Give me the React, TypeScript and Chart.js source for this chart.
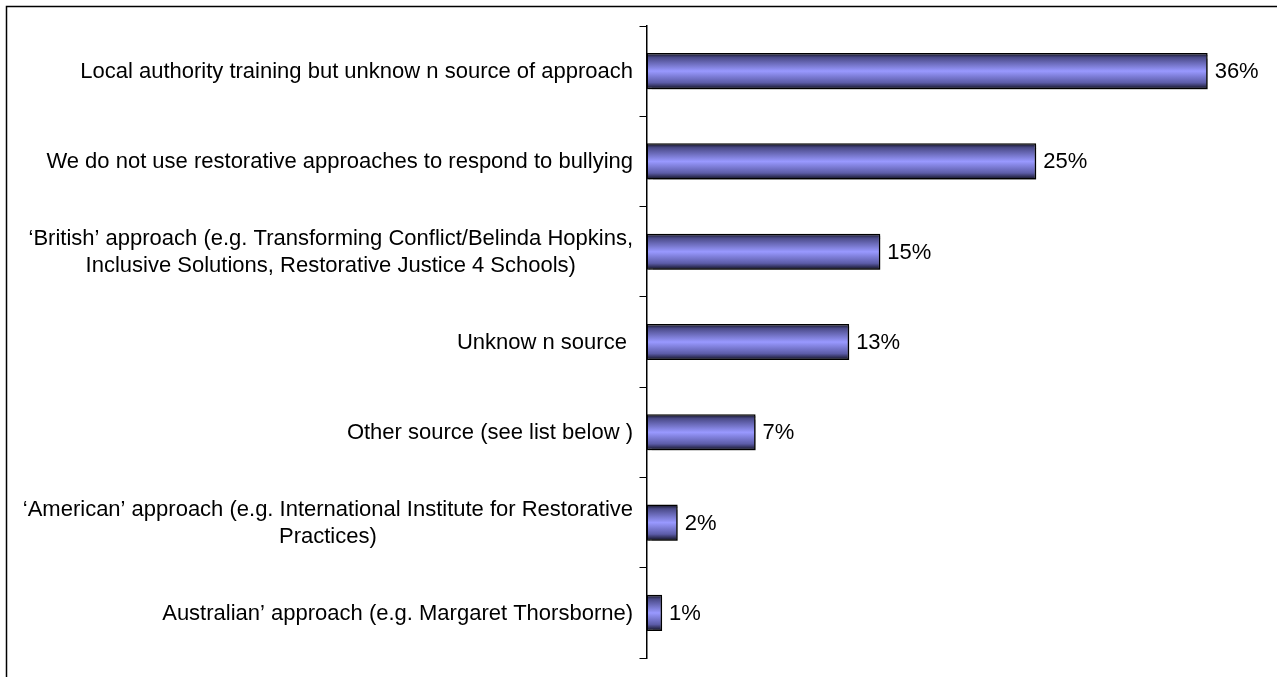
import React, { useEffect, useRef } from "react";
import { Chart, registerables } from "chart.js";

Chart.register(...registerables);

const categoryLines: string[][] = [
  ["Local authority training but unknow n source of approach"],
  ["We do not use restorative approaches to respond to bullying"],
  ["‘British’ approach (e.g. Transforming Conflict/Belinda Hopkins,", "Inclusive Solutions, Restorative Justice 4 Schools)"],
  ["Unknow n source "],
  ["Other source (see list below )"],
  ["‘American’ approach (e.g. International Institute for Restorative", "Practices)"],
  ["Australian’ approach (e.g. Margaret Thorsborne)"],
];
const values: number[] = [36, 25, 15, 13, 7, 2, 1];
const valueLabels: string[] = values.map((v) => `${v}%`);
const xMin = 0;
const xMax = 40;

const FONT = '22px "Liberation Sans", Arial, sans-serif';

export default function App() {
  const ref = useRef<HTMLCanvasElement | null>(null);
  useEffect(() => {
    if (!ref.current) return;
    const framePlugin = {
      id: "frame",
      beforeDraw(chart: any) {
        const c = chart.ctx;
        c.save();
        c.fillStyle = "#ffffff";
        c.fillRect(0, 0, chart.width, chart.height);
        c.strokeStyle = "#000";
        c.lineWidth = 1.5;
        c.beginPath();
        c.moveTo(6.5, chart.height + 5);
        c.lineTo(6.5, 6.5);
        c.lineTo(chart.width + 5, 6.5);
        c.stroke();
        c.restore();
      },
      beforeDatasetsDraw(chart: any) {
        const c = chart.ctx;
        c.save();
        c.shadowColor = "rgba(0,0,0,0.45)";
        c.shadowOffsetX = 2;
        c.shadowOffsetY = 2;
        c.shadowBlur = 1;
      },
      afterDatasetsDraw(chart: any) {
        const c = chart.ctx;
        c.restore();
        c.save();
        c.font = FONT;
        c.fillStyle = "#000";
        c.textBaseline = "middle";
        c.textAlign = "left";
        const meta = chart.getDatasetMeta(0);
        meta.data.forEach((el: any, i: number) => {
          c.fillText(valueLabels[i], el.x + 7, el.y + 1);
        });
        // category labels
        const ys = chart.scales.y;
        const rightEdge = 633;
        const lh = 27;
        categoryLines.forEach((lines, i) => {
          const yc = ys.getPixelForValue(i);
          const widths = lines.map((l) => c.measureText(l).width);
          const bw = Math.max(...widths);
          const cx = rightEdge - bw / 2;
          c.textAlign = "center";
          lines.forEach((l, j) => {
            const y = yc + (j - (lines.length - 1) / 2) * lh + 1;
            c.fillText(l, cx, y);
          });
        });
        c.restore();
      },
    };

    const chart = new Chart(ref.current, {
      type: "bar",
      data: {
        labels: categoryLines.map((l) => l.join(" ")),
        datasets: [
          {
            data: values,
            backgroundColor: (ctx: any) => {
              const chart = ctx.chart;
              const ys = chart.scales?.y;
              if (ctx.type !== "data" || !ys) return "#9999ff";
              const yc = ys.getPixelForValue(ctx.dataIndex);
              const cw = Math.abs(ys.getPixelForValue(1) - ys.getPixelForValue(0));
              const h = cw * 0.4;
              if (!isFinite(yc) || !isFinite(h) || h <= 0) return "#9999ff";
              const g = chart.ctx.createLinearGradient(0, yc - h / 2, 0, yc + h / 2);
              g.addColorStop(0, "#0d0d1a");
              g.addColorStop(0.12, "#4a4a88");
              g.addColorStop(0.5, "#9999ff");
              g.addColorStop(0.82, "#5c5ca8");
              g.addColorStop(1, "#0d0d1a");
              return g;
            },
            borderColor: "#000000",
            borderWidth: 1.5,
            borderSkipped: false,
            categoryPercentage: 1,
            barPercentage: 0.4,
          },
        ],
      },
      options: {
        indexAxis: "y",
        animation: false,
        responsive: false,
        maintainAspectRatio: false,
        devicePixelRatio: 1,
        layout: { padding: { left: 636.5, right: 7, top: 26, bottom: 19 } },
        plugins: {
          legend: { display: false },
          tooltip: { enabled: false },
          title: { display: false },
        },
        scales: {
          x: { display: false, min: xMin, max: xMax },
          y: {
            position: "left",
            offset: true,
            afterFit: (s: any) => {
              s.width = 10;
            },
            ticks: { display: false },
            grid: {
              display: true,
              offset: true,
              drawOnChartArea: false,
              drawTicks: true,
              tickLength: 7,
              color: "#000",
              lineWidth: 1,
            },
            border: { display: true, color: "#000", width: 1.5 },
          },
        },
      },
      plugins: [framePlugin],
    } as any);
    return () => chart.destroy();
  }, []);
  return (
    <div style={{ position: "fixed", left: 0, top: 0, width: 1277, height: 677, background: "#fff" }}>
      <canvas ref={ref} width={1277} height={677} style={{ display: "block" }} />
    </div>
  );
}
